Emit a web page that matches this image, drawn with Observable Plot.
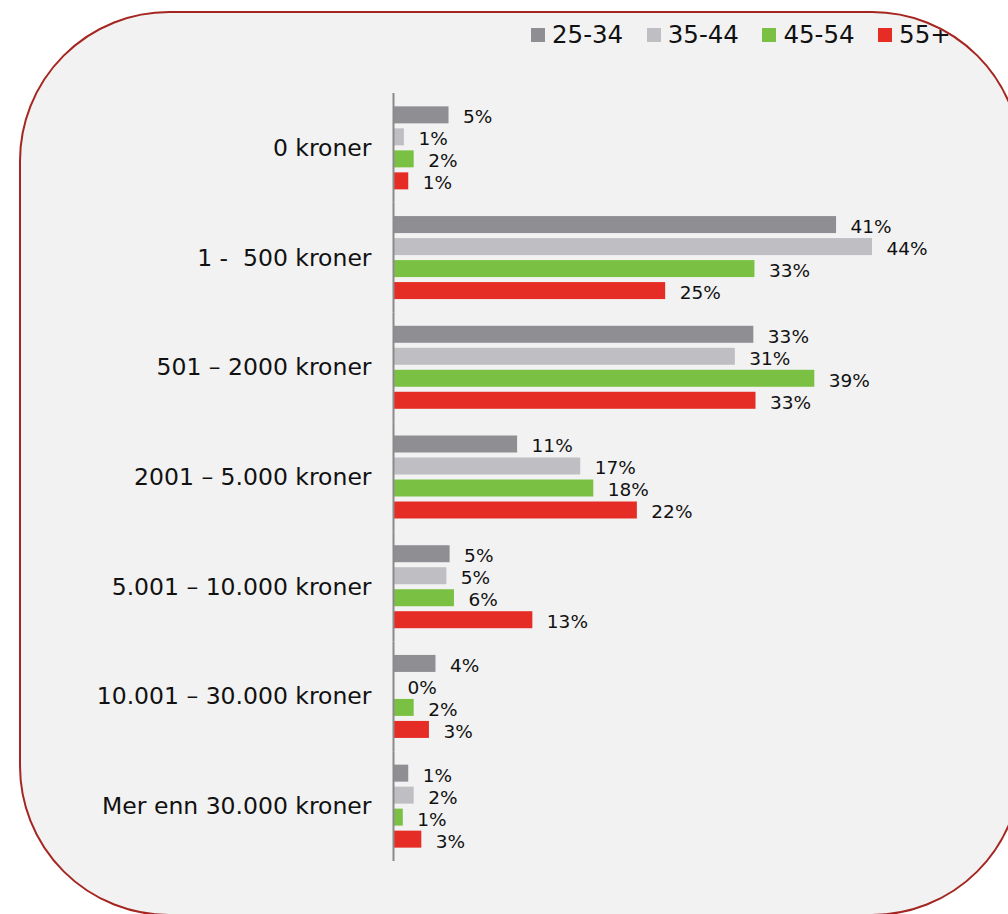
<!DOCTYPE html>
<html>
<head>
<meta charset="utf-8">
<script src="https://cdn.jsdelivr.net/npm/d3@7"></script>
<script src="https://cdn.jsdelivr.net/npm/@observablehq/plot@0.6"></script>
<style>
  html, body { margin: 0; padding: 0; }
  body { width: 1008px; height: 914px; overflow: hidden; background: #ffffff; position: relative; font-family: "DejaVu Sans", Verdana, sans-serif; }
  #frame { position: absolute; left: 19px; top: 11px; width: 1003px; height: 905px; box-sizing: border-box;
           border: 2px solid #a52620; border-radius: 150px; background: #f2f2f2; overflow: hidden; }
  #legend { position: absolute; left: 510px; top: 7px; display: flex; align-items: center; white-space: nowrap; }
  .item { display: flex; align-items: center; margin-right: 23.5px; font-size: 24.5px; color: #111; }
  .sw { width: 14px; height: 14px; margin-right: 7px; }
  #chart { position: absolute; left: 0; top: 0; }
</style>
</head>
<body>
<div id="frame"><div id="legend"></div></div>
<div id="chart"></div>
<script>
const categories = [
  "0 kroner",
  "1 -\u00a0 500 kroner",
  "501 \u2013 2000 kroner",
  "2001 \u2013 5.000 kroner",
  "5.001 \u2013 10.000 kroner",
  "10.001 \u2013 30.000 kroner",
  "Mer enn 30.000 kroner"
];
const series = ["25-34", "35-44", "45-54", "55+"];
const colors = ["#8f8e93", "#bfbfc3", "#7ac143", "#e52d25"];
// percent values per series, in category order
const v2534 = [5.1, 40.7, 33.1, 11.4, 5.2, 3.9, 1.4];
const v3544 = [1.0, 44.0, 31.4, 17.2, 4.9, 0.0, 1.9];
const v4554 = [1.9, 33.2, 38.7, 18.4, 5.6, 1.9, 0.9];
const v55 = [1.4, 25.0, 33.3, 22.4, 12.8, 3.3, 2.6];
const seriesValues = [v2534, v3544, v4554, v55];

const rows = categories.flatMap((c, i) =>
  series.map((s, j) => ({category: c, series: s, value: seriesValues[j][i]})));

const legend = document.getElementById("legend");
series.forEach((s, j) => {
  const it = document.createElement("div");
  it.className = "item";
  const sw = document.createElement("span");
  sw.className = "sw";
  sw.style.background = colors[j];
  const t = document.createElement("span");
  t.textContent = s;
  it.appendChild(sw); it.appendChild(t);
  legend.appendChild(it);
});

const chart = Plot.plot({
  width: 1008,
  height: 914,
  marginTop: 93,
  marginBottom: 53,
  marginLeft: 393,
  marginRight: 136,
  style: {background: "transparent", fontFamily: "DejaVu Sans, Verdana, sans-serif", color: "#111"},
  x: {domain: [0, 44], axis: null},
  y: {domain: series, axis: null, paddingInner: 0.227, paddingOuter: 0.607, round: false},
  fy: {domain: categories, padding: 0, label: null, round: false},
  color: {domain: series, range: colors},
  marks: [
    Plot.barX(rows, {fy: "category", y: "series", x: "value", fill: "series"}),
    Plot.text(rows, {fy: "category", y: "series", x: "value", text: d => Math.round(d.value) + "%",
      dx: 14, dy: 2, textAnchor: "start", fontSize: 18.5, fill: "#111"}),
    Plot.ruleX([0], {stroke: "#8a8a8a", strokeWidth: 2}),
    Plot.axisFy({anchor: "left", tickSize: 0, tickPadding: 22, fontSize: 23.5, label: null, fill: "#111"})
  ]
});
document.getElementById("chart").appendChild(chart);
</script>
</body>
</html>
